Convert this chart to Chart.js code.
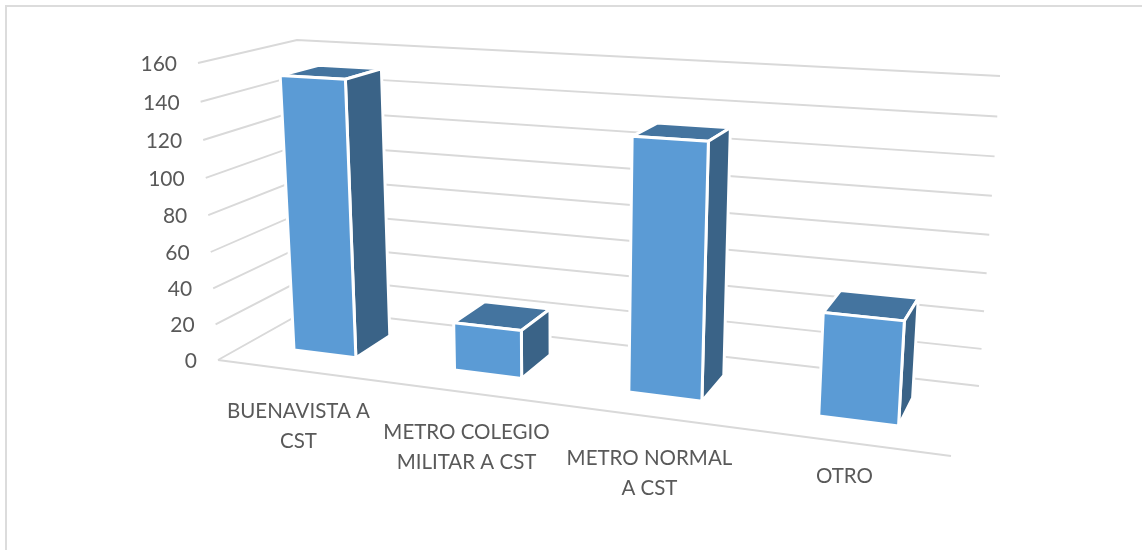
<!DOCTYPE html>
<html>
<head>
<meta charset="utf-8">
<style>
  html, body { margin: 0; background: #fff; }
  #frame { position: absolute; left: 5px; top: 5px; right: 0; bottom: 0; border-left: 2px solid #dcdcdc; border-top: 2px solid #dcdcdc; }
  canvas { position: absolute; left: 0; top: 0; }
</style>
<script src="https://cdn.jsdelivr.net/npm/chart.js@4"></script>
</head>
<body>
<div id="frame"></div>
<canvas id="chart" width="1142" height="550"></canvas>
<script>
const categories = [['BUENAVISTA A', 'CST'], ['METRO COLEGIO', 'MILITAR A CST'], ['METRO NORMAL', 'A CST'], ['OTRO']];
const values = [151, 26, 131, 52];
const axisMax = 160;
const axisStep = 20;

// corners of the 3d box on screen: front-left, front-right, back-right, back-left
const floorQuad = [[218, 360], [951, 456], [979, 386], [309, 309]];
const roofQuad = [[198, 63], [973, 104], [1000, 76], [297, 40]];
const roofSqueeze = 1.13;
const depthFront = 0.295, depthBack = 0.705;
const barNudge = 0.002;
const labelNudge = [[2, 41], [3, 40], [4, 42], [0, 34]];

function unitSquareTo(q) {
  const [[x0, y0], [x1, y1], [x2, y2], [x3, y3]] = q;
  const dx1 = x1 - x2, dx2 = x3 - x2, sx = x0 - x1 + x2 - x3;
  const dy1 = y1 - y2, dy2 = y3 - y2, sy = y0 - y1 + y2 - y3;
  const den = dx1 * dy2 - dx2 * dy1;
  const g = (sx * dy2 - dx2 * sy) / den, h = (dx1 * sy - sx * dy1) / den;
  const a = x1 - x0 + g * x1, b = x3 - x0 + h * x3;
  const d = y1 - y0 + g * y1, e = y3 - y0 + h * y3;
  return (u, v) => {
    const w = g * u + h * v + 1;
    return [(a * u + b * v + x0) / w, (d * u + e * v + y0) / w];
  };
}
const floorAt = unitSquareTo(floorQuad);
const roofAt = unitSquareTo(roofQuad);

// u across the categories, t up the value axis, d into the depth
function project(u, t, d) {
  const f = floorAt(u, d), r = roofAt(u / (u + roofSqueeze * (1 - u)), d);
  const k = t / (t + 1.05 * (1 - t));
  return [f[0] + (r[0] - f[0]) * k, f[1] + (r[1] - f[1]) * k];
}

function poly(ctx, pts, fill) {
  ctx.beginPath();
  pts.forEach((p, i) => i ? ctx.lineTo(p[0], p[1]) : ctx.moveTo(p[0], p[1]));
  ctx.closePath();
  ctx.fillStyle = fill;
  ctx.fill();
  ctx.stroke();
}

const box3d = {
  id: 'box3d',
  beforeDatasetsDraw(chart) {
    const ctx = chart.ctx, xs = chart.scales.x, ys = chart.scales.y;
    const uOf = px => (px - xs.left) / (xs.right - xs.left);
    const tOf = px => (ys.bottom - px) / (ys.bottom - ys.top);

    ctx.save();
    ctx.strokeStyle = '#d9d9d9';
    ctx.lineWidth = 1.9;
    ys.ticks.forEach(tick => {
      const t = tOf(ys.getPixelForValue(tick.value));
      const a = project(0, t, 0), b = project(0, t, 1), c = project(1, t, 1);
      ctx.beginPath();
      ctx.moveTo(a[0], a[1]);
      ctx.lineTo(b[0], b[1]);
      ctx.lineTo(c[0], c[1]);
      ctx.stroke();
      ctx.fillStyle = '#595959';
      ctx.font = '21px Lato';
      ctx.textAlign = 'right';
      ctx.textBaseline = 'middle';
      ctx.fillText(tick.label, a[0] - 21, a[1] + 1);
    });
    const fl = project(0, 0, 0), fr = project(1, 0, 0);
    ctx.beginPath();
    ctx.moveTo(fl[0], fl[1]);
    ctx.lineTo(fr[0], fr[1]);
    ctx.stroke();

    ctx.strokeStyle = '#fff';
    ctx.lineWidth = 3;
    ctx.lineJoin = 'round';
    chart.getDatasetMeta(0).data.forEach(bar => {
      const u0 = uOf(bar.x - bar.width / 2) + barNudge, u1 = uOf(bar.x + bar.width / 2) + barNudge;
      const t = tOf(bar.y);
      poly(ctx, [project(u0, t, depthFront), project(u1, t, depthFront), project(u1, t, depthBack), project(u0, t, depthBack)], '#44749f');
      poly(ctx, [project(u1, 0, depthFront), project(u1, t, depthFront), project(u1, t, depthBack), project(u1, 0, depthBack)], '#3a6387');
      poly(ctx, [project(u0, 0, depthFront), project(u1, 0, depthFront), project(u1, t, depthFront), project(u0, t, depthFront)], '#5b9bd5');
    });

    ctx.fillStyle = '#595959';
    ctx.font = '20.5px Lato';
    ctx.textAlign = 'center';
    ctx.textBaseline = 'middle';
    chart.data.labels.forEach((lines, i) => {
      const p = project(uOf(xs.getPixelForValue(i)), 0, 0);
      lines.forEach((line, n) => ctx.fillText(line, p[0] + labelNudge[i][0], p[1] + labelNudge[i][1] + n * 30));
    });
    ctx.restore();
    return false;
  }
};

new Chart(document.getElementById('chart'), {
  type: 'bar',
  data: { labels: categories, datasets: [{ data: values, barPercentage: 0.395, categoryPercentage: 1 }] },
  options: {
    responsive: false,
    animation: false,
    devicePixelRatio: 1,
    plugins: { legend: { display: false }, tooltip: { enabled: false } },
    scales: {
      x: { display: false },
      y: { display: false, min: 0, max: axisMax, ticks: { stepSize: axisStep } }
    }
  },
  plugins: [box3d]
});
</script>
</body>
</html>
